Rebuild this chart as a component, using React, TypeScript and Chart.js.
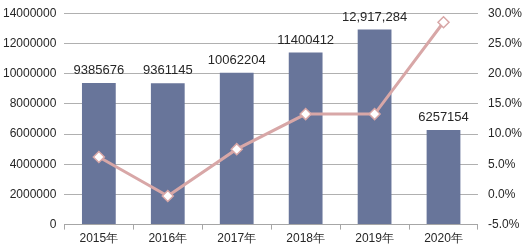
import React, { useEffect, useRef } from "react";
import { Chart, registerables } from "chart.js";

Chart.register(...registerables);

const categories = ["2015年", "2016年", "2017年", "2018年", "2019年", "2020年"];
const values = [9385676, 9361145, 10062204, 11400412, 12917284, 6257154];
const valueLabels = ["9385676", "9361145", "10062204", "11400412", "12,917,284", "6257154"];
const growth = [0.062, -0.0026, 0.0749, 0.133, 0.133, 0.285];

const FONT = "'Liberation Sans', Arial, sans-serif";

const barLabelPlugin = {
  id: "barLabels",
  afterDatasetsDraw(chart: any) {
    const meta = chart.getDatasetMeta(0);
    const ctx = chart.ctx;
    ctx.save();
    ctx.font = `13px ${FONT}`;
    ctx.fillStyle = "#262626";
    ctx.textAlign = "center";
    ctx.textBaseline = "bottom";
    meta.data.forEach((el: any, i: number) => {
      ctx.fillText(valueLabels[i], el.x, el.y - 6);
    });
    ctx.restore();
  },
};

export default function App() {
  const ref = useRef<HTMLCanvasElement>(null);
  useEffect(() => {
    if (!ref.current) return;
    const chart = new Chart(ref.current, {
      type: "bar",
      data: {
        labels: categories,
        datasets: [
          {
            type: "bar",
            data: values,
            backgroundColor: "#68759A",
            yAxisID: "y",
            barPercentage: 0.49,
            categoryPercentage: 1,
            order: 2,
          },
          {
            type: "line",
            data: growth,
            yAxisID: "y1",
            borderColor: "#D8A7A7",
            borderWidth: 3,
            pointStyle: "rectRot",
            pointRadius: 5.5,
            pointBackgroundColor: "#FFFFFF",
            pointBorderColor: "#D8A7A7",
            pointBorderWidth: 1.5,
            tension: 0,
            order: 1,
          } as any,
        ],
      },
      options: {
        animation: false,
        responsive: false,
        maintainAspectRatio: false,
        layout: { padding: { top: -2, left: -5, right: -8, bottom: 0 } },
        plugins: { legend: { display: false }, tooltip: { enabled: false } },
        scales: {
          x: {
            grid: {
              offset: true,
              drawOnChartArea: false,
              drawTicks: true,
              tickLength: 5,
              color: "#A6A6A6",
            },
            border: { display: true, color: "#A6A6A6" },
            ticks: { color: "#262626", font: { family: FONT, size: 12 }, padding: 2 },
          },
          y: {
            position: "left",
            min: 0,
            max: 14000000,
            grid: { color: "#B0B0B0", drawTicks: false },
            border: { display: false },
            ticks: {
              stepSize: 2000000,
              color: "#262626",
              font: { family: FONT, size: 12 },
              padding: 8,
              callback: (v: any) => String(v),
            },
          },
          y1: {
            position: "right",
            min: -0.05,
            max: 0.3,
            grid: { display: false, drawTicks: false },
            border: { display: false },
            ticks: {
              stepSize: 0.05,
              color: "#262626",
              font: { family: FONT, size: 12 },
              padding: 10,
              callback: (v: any) => {
                const n = Math.round(Number(v) * 1000) / 10;
                return (Math.abs(n) < 1e-9 ? 0 : n).toFixed(1) + "%";
              },
            },
          },
        },
      },
      plugins: [barLabelPlugin],
    });
    return () => chart.destroy();
  }, []);
  return (
    <div style={{ position: "absolute", left: 0, top: -4, width: 524, height: 252, background: "#fff" }}>
      <canvas ref={ref} width={524} height={252} style={{ width: 524, height: 252 }} />
    </div>
  );
}
